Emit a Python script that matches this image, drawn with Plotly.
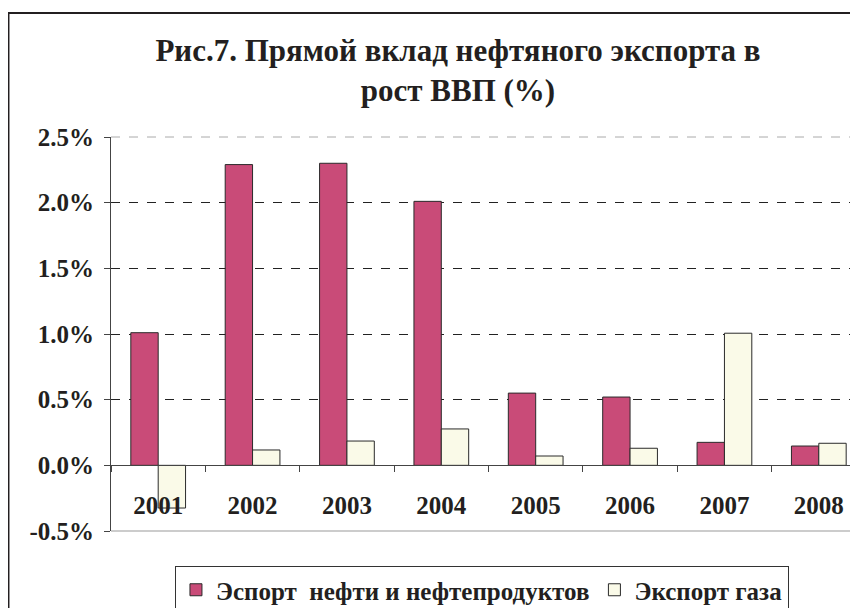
import plotly.graph_objects as go

years = ["2001", "2002", "2003", "2004", "2005", "2006", "2007", "2008"]
oil = [1.01, 2.29, 2.30, 2.01, 0.55, 0.52, 0.175, 0.147]
gas = [-0.325, 0.117, 0.185, 0.277, 0.071, 0.13, 1.006, 0.168]
oil_name = "Эспорт  нефти и нефтепродуктов"
gas_name = "Экспорт газа"
title_text = "<b>Рис.7. Прямой вклад нефтяного экспорта в<br>рост ВВП (%)</b>"
y_ticks = [-0.5, 0.0, 0.5, 1.0, 1.5, 2.0, 2.5]
y_labels = ["-0.5%", "0.0%", "0.5%", "1.0%", "1.5%", "2.0%", "2.5%"]

FONT = "Liberation Serif"
TXT = "#231f20"

fig = go.Figure()
fig.add_trace(go.Bar(x=years, y=oil, name=oil_name,
                     marker=dict(color="#c94b78", line=dict(color="#2a2a2a", width=1))))
fig.add_trace(go.Bar(x=years, y=gas, name=gas_name,
                     marker=dict(color="#fafae8", line=dict(color="#2a2a2a", width=1))))

fig.update_layout(
    width=858, height=608,
    margin=dict(l=103, r=0, t=129, b=85, autoexpand=False),
    paper_bgcolor="white", plot_bgcolor="white",
    barmode="group", bargap=0.42, bargroupgap=0,
    font=dict(family=FONT, color=TXT),
    title=dict(text=title_text, x=0.5245, xanchor="center",
               yref="container", y=1 - 53 / 608, yanchor="top",
               font=dict(family=FONT, size=31, color=TXT, weight="bold")),
    showlegend=True,
    legend=dict(orientation="h", xref="container", x=0.1946, xanchor="left",
                yref="container", y=1 - 558 / 608, yanchor="top",
                bordercolor="#333", borderwidth=1, bgcolor="white",
                font=dict(family=FONT, size=25, color=TXT, weight="bold"),
                itemwidth=30, traceorder="normal"),
)

fig.update_xaxes(
    anchor="free", position=1 / 6, automargin=False,
    showline=True, linecolor="#444", linewidth=1,
    ticks="outside", tickson="boundaries", ticklen=6, tickcolor="#444",
    ticklabelstandoff=18,
    tickfont=dict(family=FONT, size=25, color=TXT, weight="bold"),
    showgrid=False, zeroline=False,
)
fig.update_yaxes(
    range=[-0.5, 2.5], tickvals=y_ticks, ticktext=y_labels, automargin=False,
    showline=True, linecolor="#444", linewidth=1,
    ticks="outside", ticklen=6, tickcolor="#444",
    ticklabelstandoff=5,
    tickfont=dict(family=FONT, size=25, color=TXT, weight="bold"),
    showgrid=True, gridcolor="#222", griddash="dash", gridwidth=1,
    zeroline=True, zerolinecolor="#444", zerolinewidth=1,
)

# plot area border (grey) top & bottom
fig.add_shape(type="line", xref="paper", yref="paper", x0=0, x1=1, y0=0, y1=0,
              line=dict(color="#999", width=1))
fig.add_shape(type="line", xref="paper", yref="paper", x0=0, x1=1, y0=1, y1=1,
              line=dict(color="#aaa", width=1, dash="dash"))
# outer chart frame
fig.add_shape(type="rect", xref="paper", yref="paper", x0=-0.1358, x1=1.2, y0=-0.5, y1=1.3147,
              line=dict(color="#231f20", width=2), layer="below")

fig.write_html("out.html")
